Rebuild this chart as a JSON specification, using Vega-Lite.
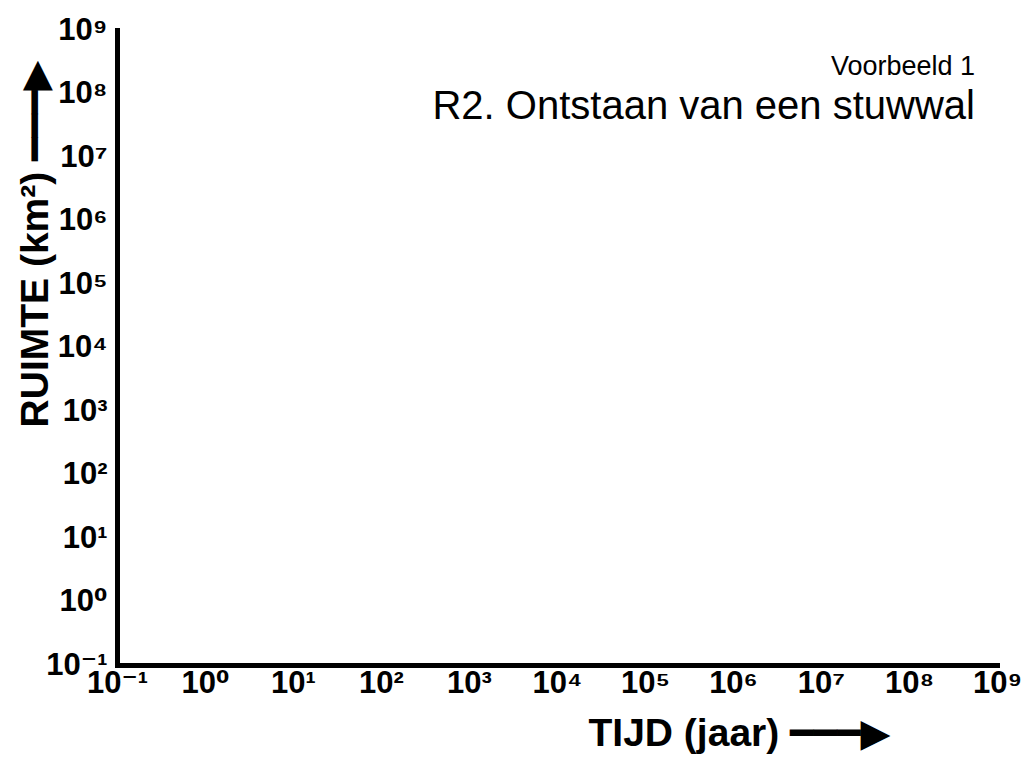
{
  "$schema": "https://vega.github.io/schema/vega-lite/v6.json",
  "width": 880,
  "height": 635,
  "autosize": {"type": "none"},
  "padding": {"left": 117, "top": 30, "right": 27, "bottom": 103},
  "background": "white",
  "config": {"view": {"stroke": null}},
  "title": {
    "text": "Voorbeeld 1",
    "subtitle": "R2. Ontstaan van een stuwwal",
    "anchor": "end",
    "frame": "group",
    "font": "Liberation Sans",
    "fontSize": 27,
    "fontWeight": "normal",
    "color": "black",
    "subtitleFont": "Liberation Sans",
    "subtitleFontSize": 40,
    "subtitleColor": "black",
    "subtitlePadding": 6,
    "offset": 0,
    "dx": -22,
    "dy": 114
  },
  "data": {"values": [{"tijd": 0.1, "ruimte": 0.1}, {"tijd": 1000000000, "ruimte": 1000000000}]},
  "mark": {"type": "point", "opacity": 0},
  "encoding": {
    "x": {
      "field": "tijd", "type": "quantitative",
      "scale": {"type": "log", "domain": [0.1, 1000000000], "nice": false},
      "axis": {
        "title": "TIJD (jaar) ━━━▶",
        "titleFont": "Liberation Sans, DejaVu Sans",
        "titleFontSize": 39,
        "titleFontWeight": "bold",
        "titleColor": "black",
        "titleAlign": "right",
        "titleAnchor": null,
        "titleX": 773,
        "titleY": 80,
        "titleBaseline": "alphabetic",
        "values": [0.1, 1, 10, 100, 1000, 10000, 100000, 1000000, 10000000, 100000000, 1000000000],
        "labelExpr": "'10' + ['⁻¹','⁰','¹','²','³','⁴','⁵','⁶','⁷','⁸','⁹'][round(log(datum.value)/LN10)+1]",
        "labelFont": "Liberation Sans, DejaVu Sans",
        "labelFontSize": 31,
        "labelFontWeight": "bold",
        "labelColor": "black",
        "labelPadding": 3,
        "labelOverlap": false,
        "labelFlush": false,
        "labelBound": false,
        "ticks": false,
        "grid": false,
        "domainColor": "black",
        "domainWidth": 5,
        "domainCap": "square"
      }
    },
    "y": {
      "field": "ruimte", "type": "quantitative",
      "scale": {"type": "log", "domain": [0.1, 1000000000], "nice": false},
      "axis": {
        "title": "RUIMTE (km²) ━━━▶",
        "titleFont": "Liberation Sans, DejaVu Sans",
        "titleFontSize": 39,
        "titleFontWeight": "bold",
        "titleColor": "black",
        "titleAngle": -90,
        "titleAlign": "right",
        "titleAnchor": null,
        "titleBaseline": "middle",
        "titleX": -82,
        "titleY": 30,
        "values": [0.1, 1, 10, 100, 1000, 10000, 100000, 1000000, 10000000, 100000000, 1000000000],
        "labelExpr": "'10' + ['⁻¹','⁰','¹','²','³','⁴','⁵','⁶','⁷','⁸','⁹'][round(log(datum.value)/LN10)+1]",
        "labelFont": "Liberation Sans, DejaVu Sans",
        "labelFontSize": 31,
        "labelFontWeight": "bold",
        "labelColor": "black",
        "labelPadding": 10,
        "labelOverlap": false,
        "labelFlush": false,
        "labelBound": false,
        "ticks": false,
        "grid": false,
        "domainColor": "black",
        "domainWidth": 5,
        "domainCap": "square"
      }
    }
  }
}
